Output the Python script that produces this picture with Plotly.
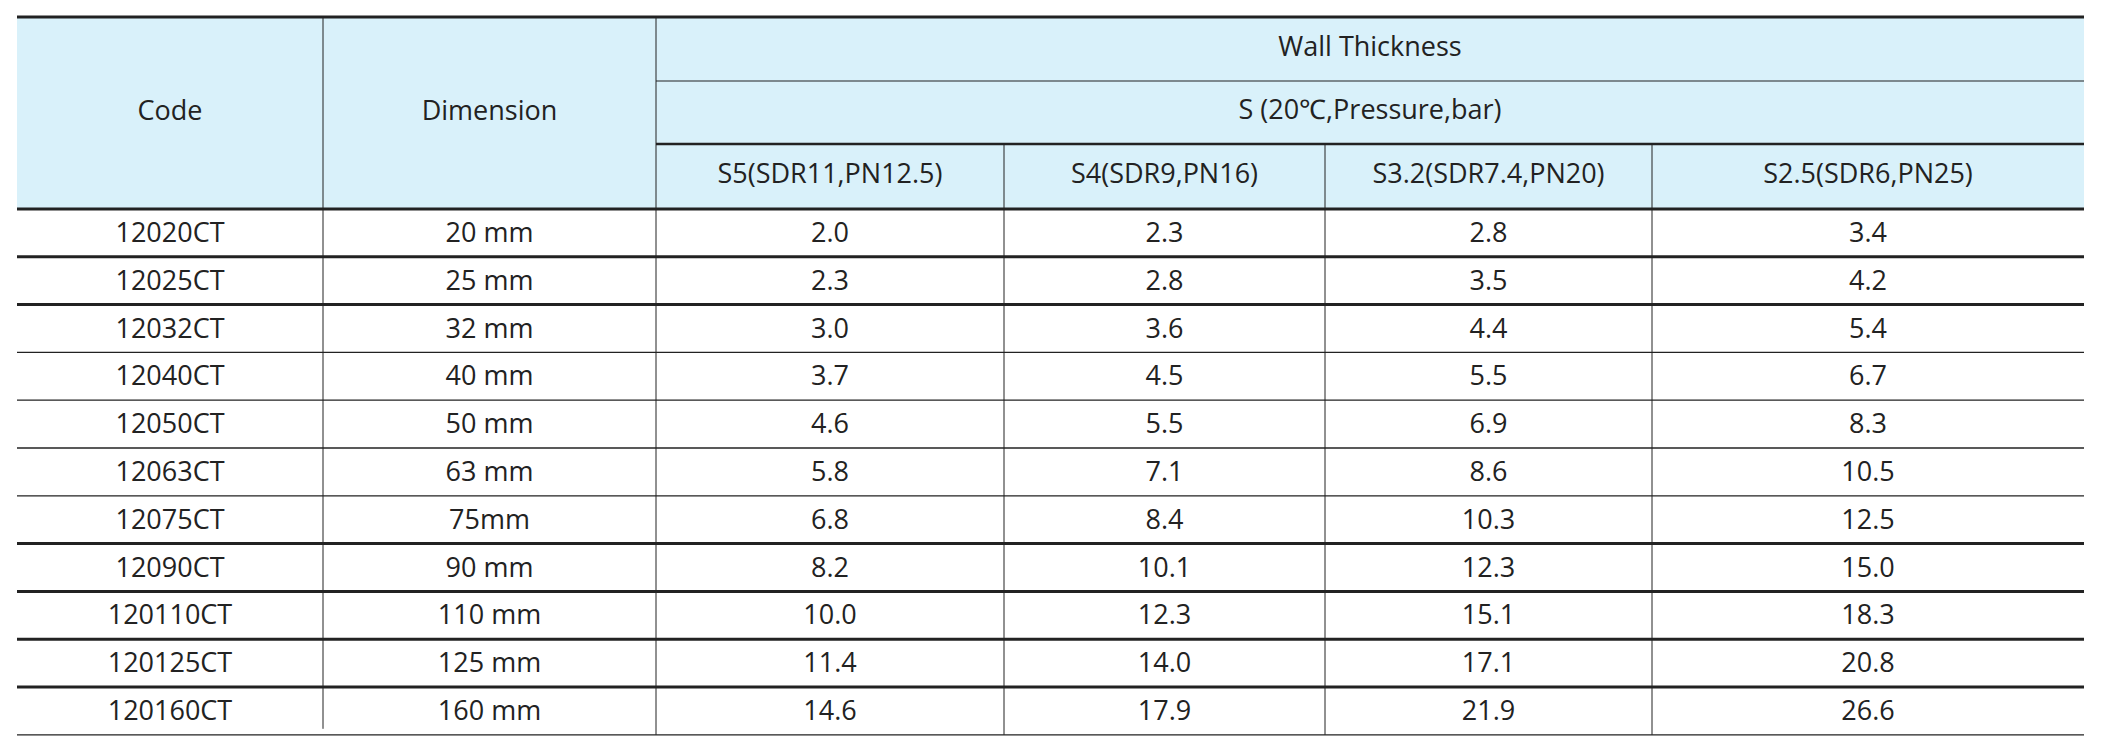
import plotly.graph_objects as go

codes = ["12020CT", "12025CT", "12032CT", "12040CT", "12050CT", "12063CT",
         "12075CT", "12090CT", "120110CT", "120125CT", "120160CT"]
dimensions = ["20 mm", "25 mm", "32 mm", "40 mm", "50 mm", "63 mm",
              "75mm", "90 mm", "110 mm", "125 mm", "160 mm"]
series_names = ["S5(SDR11,PN12.5)", "S4(SDR9,PN16)", "S3.2(SDR7.4,PN20)", "S2.5(SDR6,PN25)"]
s5 = ["2.0", "2.3", "3.0", "3.7", "4.6", "5.8", "6.8", "8.2", "10.0", "11.4", "14.6"]
s4 = ["2.3", "2.8", "3.6", "4.5", "5.5", "7.1", "8.4", "10.1", "12.3", "14.0", "17.9"]
s32 = ["2.8", "3.5", "4.4", "5.5", "6.9", "8.6", "10.3", "12.3", "15.1", "17.1", "21.9"]
s25 = ["3.4", "4.2", "5.4", "6.7", "8.3", "10.5", "12.5", "15.0", "18.3", "20.8", "26.6"]
header_top = "Wall Thickness"
header_mid = "S (20℃,Pressure,bar)"

# layout geometry (pixels)
W, H = 2101, 752
xs = [9, 315, 648, 996, 1317, 1644, 2076]
y_top, y_h1, y_h2, y_head = 9, 73, 136, 201
row_h = 47.8
thick_after = {0, 1, 6, 7, 8, 9}
FONT = "Open Sans"
C = "#222"

n = len(codes)
row_mid = [y_head + row_h * (i + 0.55) for i in range(n)]
y_bot = y_head + row_h * n

shapes = [dict(type="rect", x0=xs[0], x1=xs[-1], y0=y_top, y1=y_head,
               fillcolor="#d9f1fa", line_width=0, layer="below")]


def hline(x0, x1, y, w):
    shapes.append(dict(type="line", x0=x0, x1=x1, y0=y, y1=y, line=dict(color=C, width=w)))


def vline(x, y0, y1, w=1):
    shapes.append(dict(type="line", x0=x, x1=x, y0=y0, y1=y1, line=dict(color=C, width=w)))


hline(xs[0], xs[-1], y_top, 3)
hline(xs[2], xs[-1], y_h1, 1.2)
hline(xs[2], xs[-1], y_h2, 2.5)
hline(xs[0], xs[-1], y_head, 3)
for i in range(n):
    y = y_head + row_h * (i + 1)
    hline(xs[0], xs[-1], y, 1.2 if i == n - 1 else (3 if i in thick_after else 1.3))
vline(xs[1], y_top, y_bot - 6)
vline(xs[2], y_top, y_bot)
for x in xs[3:-1]:
    vline(x, y_h2, y_bot)

fig = go.Figure()
cols = [codes, dimensions, s5, s4, s32, s25]
for j, col in enumerate(cols):
    fig.add_trace(go.Scatter(
        x=[(xs[j] + xs[j + 1]) / 2] * n, y=row_mid, mode="text", text=col,
        textfont=dict(family=FONT, size=27, color=C), hoverinfo="skip"))

head_x = [(xs[0] + xs[1]) / 2, (xs[1] + xs[2]) / 2, (xs[2] + xs[-1]) / 2, (xs[2] + xs[-1]) / 2]
head_y = [(y_top + y_head) / 2, (y_top + y_head) / 2, (y_top + y_h1) / 2, (y_h1 + y_h2) / 2]
head_t = ["Code", "Dimension", header_top, header_mid]
for j, name in enumerate(series_names):
    head_x.append((xs[j + 2] + xs[j + 3]) / 2)
    head_y.append((y_h2 + y_head) / 2)
    head_t.append(name)
fig.add_trace(go.Scatter(x=head_x, y=head_y, mode="text", text=head_t,
                         textfont=dict(family=FONT, size=27, color=C), hoverinfo="skip"))

fig.update_layout(
    width=W, height=H, margin=dict(l=0, r=0, t=0, b=0),
    paper_bgcolor="white", plot_bgcolor="white", showlegend=False, shapes=shapes,
    xaxis=dict(range=[0, W], visible=False, fixedrange=True),
    yaxis=dict(range=[H, 0], visible=False, fixedrange=True),
)
fig.write_html("out.html", config={"displayModeBar": False})
